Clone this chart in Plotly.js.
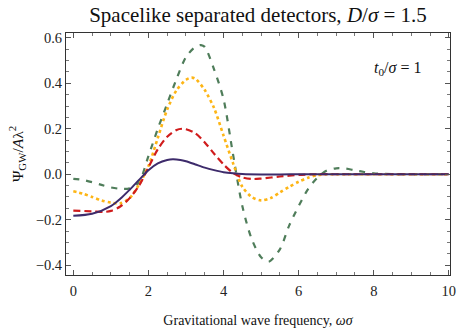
<!DOCTYPE html>
<html>
<head>
<meta charset="utf-8">
<script src="https://cdn.plot.ly/plotly-3.0.1.min.js"></script>
<style>
  html, body { margin: 0; padding: 0; background: #fff; }
  #chart { width: 460px; height: 332px; }
</style>
</head>
<body>
<div id="chart"></div>
<script>
// values
const purpleX = [0, 0.5, 1.0, 1.25, 1.5, 1.75, 2.0, 2.25, 2.5, 2.65, 2.85, 3.0, 3.25, 3.5, 3.75, 4.0, 4.25, 4.5, 5.0, 5.5, 6.0, 7.0, 8.0, 9.0, 10.0];
const purpleY = [-0.183, -0.174, -0.14, -0.108, -0.068, -0.025, 0.018, 0.048, 0.063, 0.066, 0.063, 0.057, 0.043, 0.029, 0.018, 0.009, 0.004, 0.001, -0.001, -0.001, 0, 0, 0, 0, 0];

const redX = [0, 0.5, 0.8, 1.0, 1.25, 1.5, 1.75, 2.0, 2.25, 2.5, 2.75, 2.9, 3.0, 3.25, 3.5, 3.75, 4.0, 4.25, 4.5, 4.75, 5.0, 5.5, 6.0, 6.5, 7.0, 8.0, 9.0, 10.0];
const redY = [-0.16, -0.163, -0.166, -0.161, -0.142, -0.105, -0.05, 0.03, 0.11, 0.165, 0.195, 0.2, 0.198, 0.18, 0.14, 0.09, 0.043, 0.006, -0.014, -0.021, -0.019, -0.01, -0.003, 0, 0, 0, 0, 0];

const orangeX = [0, 0.25, 0.5, 0.75, 1.0, 1.25, 1.5, 1.75, 2.0, 2.25, 2.5, 2.75, 3.0, 3.15, 3.25, 3.5, 3.75, 4.0, 4.25, 4.5, 4.75, 5.0, 5.25, 5.5, 5.75, 6.0, 6.25, 6.5, 6.75, 7.0, 8.0, 9.0, 10.0];
const orangeY = [-0.075, -0.085, -0.1, -0.115, -0.125, -0.128, -0.105, -0.045, 0.035, 0.16, 0.285, 0.37, 0.415, 0.425, 0.42, 0.37, 0.29, 0.17, 0.05, -0.055, -0.1, -0.115, -0.105, -0.08, -0.055, -0.033, -0.015, -0.004, 0, 0, 0, 0, 0];

const greenX = [0, 0.25, 0.5, 0.75, 1.0, 1.25, 1.5, 1.75, 2.0, 2.25, 2.5, 2.75, 3.0, 3.25, 3.4, 3.5, 3.75, 4.0, 4.25, 4.5, 4.75, 5.0, 5.2, 5.5, 5.75, 6.0, 6.25, 6.5, 6.75, 7.0, 7.25, 7.5, 7.75, 8.0, 8.5, 9.0, 10.0];
const greenY = [-0.02, -0.025, -0.035, -0.047, -0.058, -0.064, -0.062, -0.035, 0.08, 0.2, 0.31, 0.42, 0.515, 0.56, 0.568, 0.56, 0.46, 0.33, 0.09, -0.14, -0.285, -0.365, -0.385, -0.33, -0.225, -0.14, -0.065, -0.015, 0.016, 0.026, 0.025, 0.017, 0.01, 0.004, 0.001, 0, 0];

const font = 'Liberation Serif, Times New Roman, serif';

const traces = [
  {
    x: greenX, y: greenY, type: 'scatter', mode: 'lines',
    line: { color: '#4f7d5a', width: 2.2, dash: '6px,7px', shape: 'spline', smoothing: 0.8 }
  },
  {
    x: orangeX, y: orangeY, type: 'scatter', mode: 'lines',
    line: { color: '#fdb515', width: 2.6, dash: 'dot', shape: 'spline', smoothing: 0.8 }
  },
  {
    x: redX, y: redY, type: 'scatter', mode: 'lines',
    line: { color: '#d01c1c', width: 2.2, dash: '7px,4px', shape: 'spline', smoothing: 0.8 }
  },
  {
    x: purpleX, y: purpleY, type: 'scatter', mode: 'lines',
    line: { color: '#3d2b6b', width: 2, shape: 'spline', smoothing: 0.8 }
  }
];

const axisCommon = {
  showline: true,
  linecolor: '#333',
  linewidth: 1,
  mirror: 'ticks',
  ticks: 'inside',
  ticklen: 5,
  tickcolor: '#555',
  showgrid: false,
  zeroline: false,
  tickfont: { family: font, size: 14.5, color: '#222' }
};

const layout = {
  width: 460,
  height: 332,
  margin: { l: 66, r: 10, t: 33, b: 57 },
  paper_bgcolor: '#fff',
  plot_bgcolor: '#fff',
  showlegend: false,
  title: {
    text: 'Spacelike separated detectors, <i>D</i>/<i>σ</i> = 1.5',
    font: { family: font, size: 21, color: '#111' },
    x: 0.5, xref: 'paper', y: 0.955, yanchor: 'middle'
  },
  xaxis: Object.assign({}, axisCommon, {
    range: [-0.195, 10.03],
    dtick: 2,
    tick0: 0,
    ticklabelstandoff: 3,
    minor: { dtick: 0.5, ticks: 'inside', ticklen: 3, tickcolor: '#777' },
    title: {
      text: 'Gravitational wave frequency, <i>ωσ</i>',
      font: { family: font, size: 14, color: '#111' },
      standoff: 16
    }
  }),
  yaxis: Object.assign({}, axisCommon, {
    range: [-0.443, 0.621],
    dtick: 0.2,
    tick0: 0,
    tickformat: '.1f',
    minor: { dtick: 0.05, ticks: 'inside', ticklen: 3, tickcolor: '#777' },
    title: {
      text: 'Ψ<sub>GW</sub>/<i>A</i>λ<sup>2</sup>',
      font: { family: font, size: 15.5, color: '#111' },
      standoff: 8
    }
  }),
  annotations: [
    {
      x: 8.63, y: 0.463, xref: 'x', yref: 'y',
      text: '<i>t</i><sub>0</sub>/<i>σ</i> = 1',
      showarrow: false,
      font: { family: font, size: 16, color: '#111' }
    }
  ]
};

Plotly.newPlot('chart', traces, layout, { displayModeBar: false, staticPlot: true });
</script>
</body>
</html>
